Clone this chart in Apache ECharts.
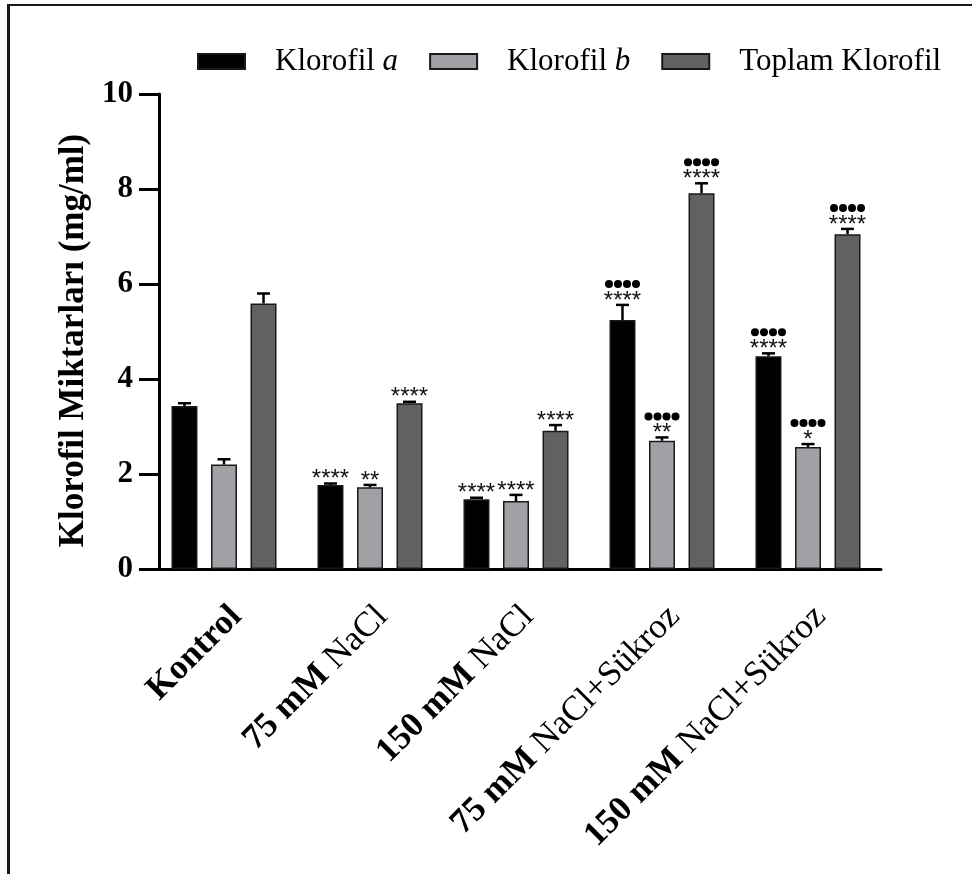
<!DOCTYPE html>
<html>
<head>
<meta charset="utf-8">
<script src="https://cdn.jsdelivr.net/npm/echarts@6/dist/echarts.min.js"></script>
<style>
html,body{margin:0;padding:0;background:#fff;}
#wrap{position:relative;width:972px;height:874px;overflow:hidden;}
#frame{position:absolute;left:7px;top:4px;width:1000px;height:1000px;border-top:2px solid #1a1a1a;border-left:3px solid #1a1a1a;box-sizing:border-box;pointer-events:none;}
#chart{position:absolute;left:0;top:0;width:972px;height:874px;}
</style>
</head>
<body>
<div id="wrap"><div id="chart"></div><div id="frame"></div></div>
<script>
// ---- data ----
const categories = ['Kontrol', '75 mM NaCl', '150 mM NaCl', '75 mM NaCl+Sükroz', '150 mM NaCl+Sükroz'];
const seriesNames = ['Klorofil a', 'Klorofil b', 'Toplam Klorofil'];
const klorofilA   = [3.43, 1.77, 1.47, 5.24, 4.48];
const klorofilAse = [0.06, 0.03, 0.03, 0.32, 0.06];
const klorofilB   = [2.20, 1.72, 1.43, 2.70, 2.57];
const klorofilBse = [0.11, 0.05, 0.13, 0.07, 0.06];
const toplam      = [5.59, 3.49, 2.91, 7.91, 7.05];
const toplamSe    = [0.21, 0.03, 0.12, 0.21, 0.11];
const starsA = ['', '****', '****', '****', '****'];
const starsB = ['', '**', '****', '**', '*'];
const starsT = ['', '****', '****', '****', '****'];
const dotsA  = ['', '', '', '●●●●', '●●●●'];
const dotsB  = ['', '', '', '●●●●', '●●●●'];
const dotsT  = ['', '', '', '●●●●', '●●●●'];
const yMin = 0, yMax = 10, yInterval = 2;

// ---- style ----
const colors = ['#000000', '#a1a1a5', '#616161'];
const BAR_W = 26, BAR_GAP = 0.52;
const SERIF = '"Liberation Serif", "Times New Roman", serif';

const chart = echarts.init(document.getElementById('chart'));

function errorSeries(k, means, ses, stars, dots) {
  return {
    type: 'custom',
    z: 5,
    silent: true,
    data: means.map((m, i) => [i, m, ses[i]]),
    renderItem: function (params, api) {
      const i = api.value(0), m = api.value(1), se = api.value(2);
      const off = (k - 1) * (BAR_W + BAR_W * BAR_GAP);
      const base = api.coord([i, m]);
      const top = api.coord([i, m + se]);
      const x = base[0] + off;
      const st = { stroke: '#000', lineWidth: 2.5 };
      const children = [
        { type: 'line', shape: { x1: x, y1: base[1], x2: x, y2: top[1] }, style: st },
        { type: 'line', shape: { x1: x - 6.5, y1: top[1], x2: x + 6.5, y2: top[1] }, style: st }
      ];
      if (stars[i]) {
        children.push({ type: 'text', x: x, y: top[1] - 4, style: {
          text: stars[i], fill: '#111', font: '24px "Liberation Sans", Arial, sans-serif',
          textAlign: 'center', textVerticalAlign: 'middle' } });
      }
      const n = Array.from(dots[i]).length;
      for (let d = 0; d < n; d++) {
        children.push({ type: 'circle',
          shape: { cx: x + (d - (n - 1) / 2) * 9, cy: top[1] - 21, r: 4 },
          style: { fill: '#000' } });
      }
      return { type: 'group', children: children };
    }
  };
}

const barCommon = {
  type: 'bar',
  barWidth: BAR_W,
  barGap: (BAR_GAP * 100) + '%',
  itemStyle: { borderColor: '#1a1a1a', borderWidth: 1.5 }
};

const option = {
  animation: false,
  backgroundColor: '#fff',
  color: colors,
  legend: {
    data: seriesNames,
    left: 192,
    top: 41,
    itemWidth: 47,
    itemHeight: 15,
    itemGap: 31,
    icon: 'rect',
    formatter: function (name) {
      if (name === 'Klorofil a') return '{r|Klorofil }{i|a}';
      if (name === 'Klorofil b') return '{r|Klorofil }{i|b}';
      return '{r|' + name + '}';
    },
    textStyle: {
      padding: [0, 0, 0, 25],
      rich: {
        r: { fontFamily: SERIF, fontSize: 31, color: '#000' },
        i: { fontFamily: SERIF, fontSize: 31, fontStyle: 'italic', color: '#000' }
      }
    }
  },
  grid: { left: 151, right: 91, top: 94, bottom: 305, containLabel: false },
  xAxis: {
    type: 'category',
    data: categories,
    axisLine: { lineStyle: { color: '#000', width: 3 } },
    axisTick: { alignWithLabel: true, length: 18, lineStyle: { color: '#000', width: 3 } },
    axisLabel: {
      rotate: 45,
      margin: 30,
      interval: 0,
      verticalAlign: 'top',
      formatter: function (v) {
        const idx = v.indexOf('NaCl');
        if (idx < 0) return '{b|' + v + '}';
        return '{b|' + v.slice(0, idx) + '}{r|' + v.slice(idx) + '}';
      },
      rich: {
        b: { fontFamily: SERIF, fontSize: 35, fontWeight: 'bold', color: '#000' },
        r: { fontFamily: SERIF, fontSize: 35, color: '#000' }
      }
    }
  },
  yAxis: {
    type: 'value',
    min: yMin, max: yMax, interval: yInterval,
    offset: -8,
    name: 'Klorofil Miktarları (mg/ml)',
    nameLocation: 'middle',
    nameRotate: 90,
    nameGap: 38,
    nameTextStyle: { fontFamily: SERIF, fontSize: 35, fontWeight: 'bold', color: '#000', padding: [0, 18, 0, 0] },
    splitLine: { show: false },
    axisLine: { show: true, lineStyle: { color: '#000', width: 3 } },
    axisTick: { show: true, length: 20, lineStyle: { color: '#000', width: 3 } },
    axisLabel: { margin: 26, fontFamily: SERIF, fontSize: 31, fontWeight: 'bold', color: '#000' }
  },
  series: [
    Object.assign({}, barCommon, { name: seriesNames[0], data: klorofilA }),
    Object.assign({}, barCommon, { name: seriesNames[1], data: klorofilB }),
    Object.assign({}, barCommon, { name: seriesNames[2], data: toplam }),
    errorSeries(0, klorofilA, klorofilAse, starsA, dotsA),
    errorSeries(1, klorofilB, klorofilBse, starsB, dotsB),
    errorSeries(2, toplam, toplamSe, starsT, dotsT)
  ]
};
chart.setOption(option);
</script>
</body>
</html>
